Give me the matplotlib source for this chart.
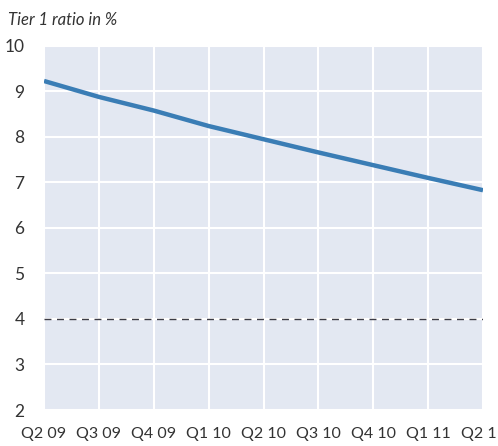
import numpy as np
import matplotlib.pyplot as plt

plt.rcParams['font.family'] = ['Lato', 'DejaVu Sans']

quartale = ['Q2 09', 'Q3 09', 'Q4 09', 'Q1 10', 'Q2 10', 'Q3 10', 'Q4 10', 'Q1 11', 'Q2 11']
tier1 = [9.23, 8.88, 8.58, 8.24, 7.95, 7.66, 7.38, 7.10, 6.83]
schwelle = 4

fig = plt.figure(figsize=(4.98, 4.46), dpi=100)
ax = fig.add_axes([0.0884, 0.0807, 0.8815, 0.8163])
ax.set_facecolor('#e3e8f2')

x = np.arange(len(quartale))
ax.plot(x, tier1, color='#3a7db5', linewidth=3.2, solid_capstyle='butt', zorder=3)
ax.axhline(schwelle, color='#3c3c46', linewidth=1.0, linestyle=(0, (5, 4)), zorder=2)

ax.set_xlim(0, len(quartale) - 1)
ax.set_ylim(2, 10)
ax.set_xticks(x)
ax.set_xticklabels(quartale, fontsize=11.5, color='#333333')
ax.set_yticks(range(2, 11))
ax.tick_params(axis='y', labelsize=12.5, colors='#333333', length=0, pad=14)
ax.tick_params(axis='x', length=0, pad=12)
for lab in ax.get_xticklabels():
    lab.set_clip_on(False)

for s in ax.spines.values():
    s.set_visible(False)
ax.grid(True, color='white', linewidth=1.5)
ax.set_axisbelow(True)

fig.text(0.016, 0.955, 'Tier 1 ratio in %', fontsize=12, style='italic', color='#333333',
         ha='left', va='center')

fig.savefig('out.png', dpi=100)
